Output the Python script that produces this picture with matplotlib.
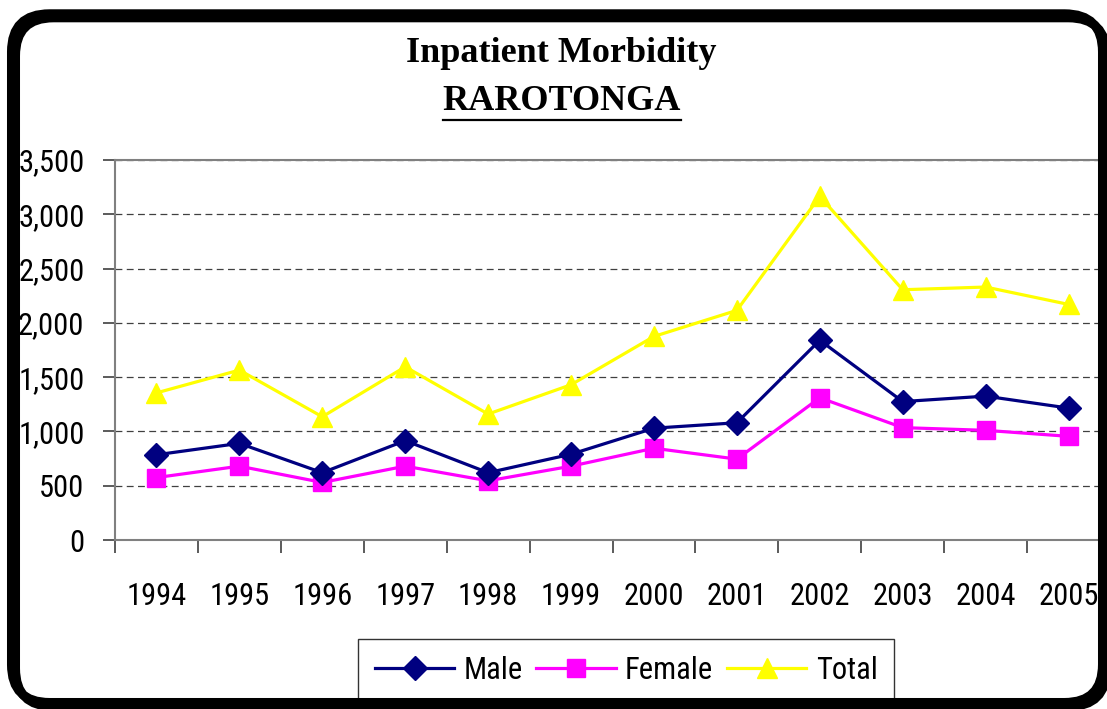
import matplotlib
matplotlib.use("Agg")
import matplotlib.pyplot as plt
from matplotlib.patches import FancyBboxPatch
from matplotlib.lines import Line2D

plt.rcParams['font.family'] = ['Roboto Condensed', 'PT Sans Narrow', 'Liberation Sans', 'DejaVu Sans']

years = ['1994', '1995', '1996', '1997', '1998', '1999', '2000', '2001', '2002', '2003', '2004', '2005']
male = [785, 890, 620, 915, 620, 790, 1030, 1080, 1840, 1275, 1325, 1215]
female = [575, 680, 530, 680, 545, 680, 845, 745, 1310, 1035, 1010, 955]
total = [1355, 1565, 1135, 1595, 1160, 1430, 1875, 2115, 3165, 2305, 2330, 2170]
yticks = [0, 500, 1000, 1500, 2000, 2500, 3000, 3500]
ytick_labels = ['0', '500', '1,000', '1,500', '2,000', '2,500', '3,000', '3,500']

W, H = 1107, 709
FS = 22
fig = plt.figure(figsize=(W / 100, H / 100), dpi=100)

BX, BY, BW, BH = 11.5, 13.8, 1091, 688.7

# background / frame axes in pixel coordinates
bg = fig.add_axes([0, 0, 1, 1], zorder=0)
bg.set_xlim(0, W)
bg.set_ylim(H, 0)
bg.axis('off')
bg.add_patch(FancyBboxPatch((BX, BY), BW, BH,
                            boxstyle="round,pad=0,rounding_size=38",
                            facecolor='white', edgecolor='none'))

ax = fig.add_axes([115 / W, 1 - 540 / H, 995 / W, 380 / H], zorder=1)
ax.set_facecolor('none')
x = list(range(len(years)))
ax.plot(x, total, color='#FFFF00', lw=2.3, marker='^', ms=15, mec='#FFFF00', label='Total', zorder=3)
ax.plot(x, female, color='#FF00FF', lw=2.3, marker='s', ms=12.5, mec='#FF00FF', label='Female', zorder=4)
ax.plot(x, male, color='#000080', lw=2.3, marker='D', ms=12, mec='#000080', label='Male', zorder=5)

ax.set_xlim(-0.5, len(years) - 0.5)
ax.set_ylim(0, 3500)
ax.set_yticks(yticks)
ax.set_yticklabels(ytick_labels, fontsize=FS)
ax.set_xticks([i - 0.5 for i in range(len(years) + 1)])
ax.set_xticklabels([])
ax.set_xticks(x, minor=True)
ax.set_xticklabels(years, minor=True, fontsize=FS)
ax.tick_params(axis='x', which='major', direction='out', length=9, width=1.2, color='#404040')
ax.tick_params(axis='x', which='minor', length=0, pad=30)
ax.tick_params(axis='y', direction='out', length=9, width=1.2, color='#404040', pad=13)

for sp in ['left', 'bottom', 'top']:
    ax.spines[sp].set_color('#808080')
    ax.spines[sp].set_linewidth(1.5)
ax.spines['right'].set_visible(False)
ax.yaxis.grid(True, linestyle=(0, (5.5, 3.5)), color='#404040', lw=0.9)
ax.set_axisbelow(True)

handles = [
    Line2D([], [], color='#000080', lw=2.3, marker='D', ms=12),
    Line2D([], [], color='#FF00FF', lw=2.3, marker='s', ms=12.5),
    Line2D([], [], color='#FFFF00', lw=2.3, marker='^', ms=15),
]
leg = fig.legend(handles, ['Male', 'Female', 'Total'], loc='upper left',
                 bbox_to_anchor=(358 / W, 1 - 639 / H), ncol=3, fontsize=FS,
                 frameon=True, fancybox=False, edgecolor='black',
                 handlelength=2.6, handletextpad=0.3, columnspacing=0.45,
                 borderpad=0.55, borderaxespad=0)
leg.get_frame().set_linewidth(1.0)
leg.set_zorder(2)

# frame border on top (with a small shadow to the lower right)
fr = fig.add_axes([0, 0, 1, 1], zorder=3)
fr.set_xlim(0, W)
fr.set_ylim(H, 0)
fr.axis('off')
fr.patch.set_alpha(0)
fr.add_patch(FancyBboxPatch((BX + 4, BY + 4), BW, BH,
                            boxstyle="round,pad=0,rounding_size=38",
                            facecolor='none', edgecolor='black', lw=6.5))
fr.add_patch(FancyBboxPatch((BX, BY), BW, BH,
                            boxstyle="round,pad=0,rounding_size=38",
                            facecolor='none', edgecolor='black', lw=6.5))

serif = ['Liberation Serif', 'DejaVu Serif']
t1 = fr.text(561, 53, 'Inpatient Morbidity', ha='center', va='center',
             fontsize=26, fontweight='bold', family=serif)
t2 = fr.text(562, 102, 'RAROTONGA', ha='center', va='center',
             fontsize=26, fontweight='bold', family=serif)
fig.canvas.draw()
bb = t2.get_window_extent()
fr.plot([bb.x0, bb.x1], [H - bb.y0 + 1, H - bb.y0 + 1], color='black', lw=1.6)

fig.savefig('out.png', dpi=100)
